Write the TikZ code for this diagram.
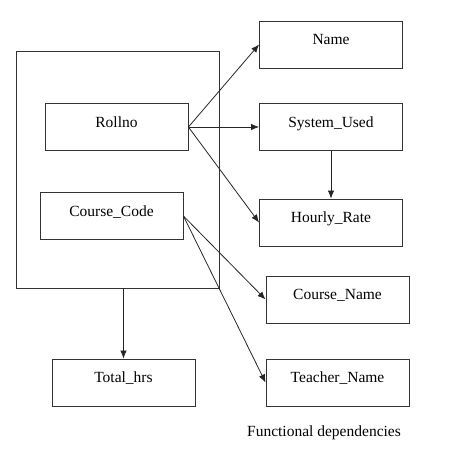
\documentclass[tikz,border=0pt]{standalone}
\usepackage{fontspec}
\setmainfont{Liberation Serif}
\usetikzlibrary{arrows.meta}
\begin{document}
\begin{tikzpicture}[x=1pt,y=-1pt,
  ent/.style={draw=black!80,line width=0.9pt,minimum width=143pt,minimum height=47pt,inner sep=0pt,text height=0pt,text depth=0pt,font=\fontsize{15.5}{18}\selectfont},
  arr/.style={draw=black!85,line width=0.8pt,-{Latex[length=8pt,width=6.5pt]}}]
\useasboundingbox (0,0) rectangle (470,452);
\node[draw=black!80,line width=0.9pt,minimum width=203pt,minimum height=237pt,inner sep=0pt] (outer) at (117.5,169.5) {};
\node[ent] (roll) at (116.5,127) {Rollno};
\node[ent] (cc) at (111.5,216) {Course\_Code};
\node[ent] (tot) at (123.5,382.5) {Total\_hrs};
\node[ent] (name) at (331,44.5) {Name};
\node[ent] (sys) at (331,127) {System\_Used};
\node[ent] (hr) at (331,222.5) {Hourly\_Rate};
\node[ent] (cn) at (337.5,299.5) {Course\_Name};
\node[ent] (tn) at (337.5,382.5) {Teacher\_Name};
\node[font=\fontsize{15.5}{18}\selectfont,inner sep=0pt] (cap) at (324,433) {Functional dependencies};
\draw[arr] (roll.east) -- (name.west);
\draw[arr] (roll.east) -- (sys.west);
\draw[arr] (roll.east) -- (hr.west);
\draw[arr] (sys.south) -- (hr.north);
\draw[arr] (cc.east) -- (cn.west);
\draw[arr] (cc.east) -- (tn.west);
\draw[arr] (outer.south -| tot.north) -- (tot.north);
\end{tikzpicture}
\end{document}
